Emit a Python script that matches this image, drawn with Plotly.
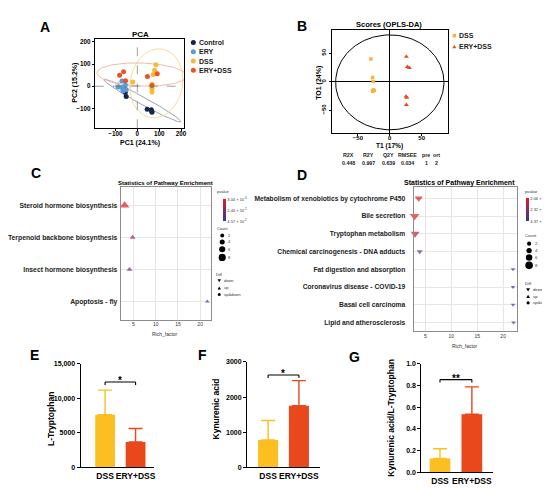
import numpy as np
import plotly.graph_objects as go

W, H = 550, 489
FONT = "Liberation Sans"


def px(x):
    return x / W


def py(y):
    return 1 - y / H


# ---------------- A: PCA data ----------------
pca_groups = ["Control", "ERY", "DSS", "ERY+DSS"]
pca_colors = ["#16244d", "#5b9bd5", "#f7b936", "#e8542a"]
ell_colors = ["#9aa3b5", "#b4cfea", "#f9dc98", "#f3bba3"]
pc1_control = [-60, -55, -51, 45, 64, 67, 66]
pc2_control = [-9, -28, -46, -104, -106, -118, -113]
pc1_ery = [-70, -88, -69, -55, -66, -51]
pc2_ery = [24, -3, -6, 4, -21, -16]
pc1_dss = [85, 79, 73, 67, 67, 67, -21]
pc2_dss = [97, 72, 53, 9, -9, -26, 19]
pc1_erydss = [-81, -63, -54, 46, 91, 67]
pc2_erydss = [50, 65, 25, 44, 56, 3]
# confidence ellipses (center, semi-axes, angle)
ell_cx = [23, -66, 87, 20]
ell_cy = [-65, 0, 13, 53]
ell_a = [200, 35, 157, 205]
ell_b = [17, 18, 120, 52]
ell_ang = [-28.5, -15, 79, -2]
pca_ticks = [-100, 0, 100, 200]

# ---------------- B: OPLS-DA data ----------------
opls_groups = ["DSS", "ERY+DSS"]
opls_colors = ["#f5b43a", "#e0501e"]
t1_dss = [-29.7, -27.1, -26.0, -26.0, -24.5, -27.0]
to1_dss = [39.8, 7.4, 0.6, -14.2, -15.3, -16.5]
t1_erydss = [26.0, 27.6, 30.7, 25.5, 26.6, 26.0]
to1_erydss = [43.8, 26.1, 24.4, -25.6, -27.8, -40.3]
hotelling = [85, 83]
opls_ticks = [-50, 0, 50]
opls_head = ["R2X", "R2Y", "Q2Y", "RMSEE", "pre", "ort"]
opls_vals = ["0.448", "0.997", "0.639", "0.034", "1", "2"]

# ---------------- C: pathway enrichment ----------------
c_pathways = ["Steroid hormone biosynthesis", "Terpenoid backbone biosynthesis",
              "Insect hormone biosynthesis", "Apoptosis - fly"]
c_rich = [3.0, 4.8, 4.1, 21.6]
c_p = [0.0030, 0.019, 0.031, 0.0457]
c_count = [8, 3, 3, 1]
c_diff = ["up", "up", "up", "up"]
c_pticks = [0.00304, 0.0244, 0.0457]
c_ptext = ["3.04 × 10<sup>-3</sup>", "2.44 × 10<sup>-2</sup>", "4.57 × 10<sup>-2</sup>"]

# ---------------- D: pathway enrichment ----------------
d_pathways = ["Metabolism of xenobiotics by cytochrome P450", "Bile secretion",
              "Tryptophan metabolism", "Chemical carcinogenesis - DNA adducts",
              "Fat digestion and absorption", "Coronavirus disease - COVID-19",
              "Basal cell carcinoma", "Lipid and atherosclerosis"]
d_rich = [3.7, 2.9, 3.0, 3.9, 21.9, 21.9, 21.9, 22.0]
d_p = [0.0028, 0.0021, 0.011, 0.033, 0.0437, 0.0437, 0.0437, 0.0437]
d_count = [6, 8, 7, 3, 1, 1, 1, 1]
d_diff = ["down"] * 8
d_pticks = [0.00206, 0.0232, 0.0437]
d_ptext = ["2.06 × 10<sup>-3</sup>", "2.32 × 10<sup>-2</sup>", "4.37 × 10<sup>-2</sup>"]

rich_ticks = [5, 10, 15, 20]
count_breaks = [2, 4, 6, 8]
diff_levels = ["down", "up", "up&down"]

# ---------------- E/F/G: bars ----------------
bar_groups = ["DSS", "ERY+DSS"]
bar_colors = ["#fbbf22", "#e8481c"]
trp_mean = [7630, 3670]
trp_err = [3570, 1960]
kyna_mean = [779, 1756]
kyna_err = [554, 713]
ratio_mean = [0.127, 0.536]
ratio_err = [0.091, 0.252]
sig_labels = ["*", "*", "**"]
sig_y = [12380, 2629, 0.855]
trp_ticks = [0, 5000, 10000, 15000]
trp_ticktext = ["0", "5000", "10,000", "15,000"]
kyna_ticks = [0, 1000, 2000, 3000]
ratio_ticks = [0.0, 0.2, 0.4, 0.6, 0.8, 1.0]

fig = go.Figure()
shapes = []
anns = []


def ann(x, y, text, size, xanchor="center", yanchor="middle", bold=True,
        color="black", angle=0, xref="paper", yref="paper", yshift=0):
    if xref == "paper":
        x = px(x)
    if yref == "paper":
        y = py(y)
    anns.append(dict(x=x, y=y, xref=xref, yref=yref, text=text, showarrow=False,
                     xanchor=xanchor, yanchor=yanchor, textangle=angle, yshift=yshift,
                     borderpad=0,
                     font=dict(family=FONT, size=size, color=color,
                               weight="bold" if bold else "normal")))


def circ(x, y, d, color):
    shapes.append(dict(type="circle", xref="paper", yref="paper", xsizemode="pixel",
                       ysizemode="pixel", xanchor=px(x), yanchor=py(y),
                       x0=-d / 2, x1=d / 2, y0=-d / 2, y1=d / 2,
                       fillcolor=color, line=dict(width=0)))


def tri(x, y, s, up, color):
    h = s * 0.87
    if up:
        path = f"M {-s/2},{-h/2} L {s/2},{-h/2} L 0,{h/2} Z"
    else:
        path = f"M {-s/2},{h/2} L {s/2},{h/2} L 0,{-h/2} Z"
    shapes.append(dict(type="path", xref="paper", yref="paper", xsizemode="pixel",
                       ysizemode="pixel", xanchor=px(x), yanchor=py(y), path=path,
                       fillcolor=color, line=dict(width=0)))


def sq(x, y, s, color):
    shapes.append(dict(type="rect", xref="paper", yref="paper", xsizemode="pixel",
                       ysizemode="pixel", xanchor=px(x), yanchor=py(y),
                       x0=-s / 2, x1=s / 2, y0=-s / 2, y1=s / 2,
                       fillcolor=color, line=dict(width=0)))


def ellipse(cx, cy, a, b, ang_deg, n=160):
    t = np.linspace(0, 2 * np.pi, n)
    th = np.radians(ang_deg)
    x = cx + a * np.cos(t) * np.cos(th) - b * np.sin(t) * np.sin(th)
    y = cy + a * np.cos(t) * np.sin(th) + b * np.sin(t) * np.cos(th)
    return x, y


def size_of(count):
    return 3.3 + 0.65 * np.asarray(count, dtype=float)


# ---------- A traces ----------
for i in range(4):
    ex, ey = ellipse(ell_cx[i], ell_cy[i], ell_a[i], ell_b[i], ell_ang[i])
    fig.add_trace(go.Scatter(x=ex, y=ey, mode="lines", line=dict(color=ell_colors[i], width=1),
                             xaxis="x", yaxis="y", hoverinfo="skip"))
pca_x = [pc1_control, pc1_ery, pc1_dss, pc1_erydss]
pca_y = [pc2_control, pc2_ery, pc2_dss, pc2_erydss]
for i in range(4):
    fig.add_trace(go.Scatter(x=pca_x[i], y=pca_y[i], mode="markers", name=pca_groups[i],
                             marker=dict(color=pca_colors[i], size=5),
                             xaxis="x", yaxis="y"))
shapes.append(dict(type="line", xref="x", yref="y domain", x0=0, x1=0, y0=0, y1=1,
                   line=dict(color="#777", width=0.7, dash="dash")))
shapes.append(dict(type="line", xref="x domain", yref="y", x0=0, x1=1, y0=0, y1=0,
                   line=dict(color="#777", width=0.7, dash="dash")))

# ---------- B traces ----------
ex, ey = ellipse(0, -1, hotelling[0], hotelling[1], 0)
fig.add_trace(go.Scatter(x=ex, y=ey, mode="lines", line=dict(color="black", width=1),
                         xaxis="x2", yaxis="y2", hoverinfo="skip"))
fig.add_trace(go.Scatter(x=t1_dss, y=to1_dss, mode="markers",
                         marker=dict(color=opls_colors[0], size=3.5, symbol="square"),
                         xaxis="x2", yaxis="y2"))
fig.add_trace(go.Scatter(x=t1_erydss, y=to1_erydss, mode="markers",
                         marker=dict(color=opls_colors[1], size=4.5, symbol="triangle-up"),
                         xaxis="x2", yaxis="y2"))

sym_map = {"up": "triangle-up", "down": "triangle-down", "up&down": "circle"}
pscale = [[0, "#2d3a97"], [1, "#e8191f"]]


def enrich_trace(rich, pathways, pvals, counts, diffs, pticks, ptext, xa, ya, cbx, cby, cblen, fs):
    ypos = [len(pathways) - i for i in range(len(pathways))]
    return go.Scatter(
        x=rich, y=ypos, mode="markers", xaxis=xa, yaxis=ya, cliponaxis=False,
        marker=dict(size=size_of(counts), symbol=[sym_map[d] for d in diffs],
                    color=[-p for p in pvals], colorscale=pscale,
                    cmin=-max(pticks), cmax=-min(pticks), line=dict(width=0),
                    colorbar=dict(x=px(cbx), xanchor="left", y=py(cby), yanchor="top",
                                  len=cblen, lenmode="pixels", thickness=2.5,
                                  thicknessmode="pixels", xpad=0, ypad=0, outlinewidth=0,
                                  ticks="", tickvals=[-v for v in pticks], ticktext=ptext,
                                  tickfont=dict(family=FONT, size=fs, color="#333"))),
    )


fig.add_trace(enrich_trace(c_rich, c_pathways, c_p, c_count, c_diff, c_pticks, c_ptext,
                           "x3", "y3", 216, 190, 22, 4))
fig.add_trace(enrich_trace(d_rich, d_pathways, d_p, d_count, d_diff, d_pticks, d_ptext,
                           "x4", "y4", 519.5, 189, 23, 4))

# ---------- E/F/G bars ----------
bar_sets = [(trp_mean, trp_err, "x5", "y5"), (kyna_mean, kyna_err, "x6", "y6"),
            (ratio_mean, ratio_err, "x7", "y7")]
for k, (means, errs, xa, ya) in enumerate(bar_sets):
    for j in range(2):
        fig.add_trace(go.Bar(x=[j], y=[means[j]], width=0.65,
                             marker=dict(color=bar_colors[j], line=dict(width=0)),
                             error_y=dict(type="data", symmetric=False, array=[errs[j]],
                                          arrayminus=[0], color=bar_colors[j], thickness=1.4, width=7),
                             xaxis=xa, yaxis=ya))
    yb = sig_y[k]
    shapes.append(dict(type="line", xref=xa, yref=ya, x0=0, x1=1, y0=yb, y1=yb,
                       line=dict(color="black", width=1.1)))
    for xv in (0, 1):
        shapes.append(dict(type="line", xref=xa, yref=ya, ysizemode="pixel", yanchor=yb,
                           x0=xv, x1=xv, y0=-3, y1=0, line=dict(color="black", width=1.1)))
    ann(0.5, yb, sig_labels[k], 10, xref=xa, yref=ya, yshift=1)

# ---------- text ----------
for letter, x, y in [("A", 37, 15), ("B", 295, 14), ("C", 28, 163), ("D", 295, 165),
                     ("E", 27, 348), ("F", 195, 348), ("G", 348, 350)]:
    ann(x, y, letter, 14)

ann(133, 23, "PCA", 8)
ann(132, 133, "PC1 (24.1%)", 7)
ann(67, 72, "PC2 (15.2%)", 7, angle=-90)
for i, g in enumerate(pca_groups):
    yy = 31 + i * 9.4
    circ(186, yy, 5, pca_colors[i])
    ann(190.5, yy, g, 7, xanchor="left", color="#222")

ann(382, 13, "Scores (OPLS-DA)", 7.5)
ann(383, 135.5, "T1 (17%)", 6.6)
ann(312, 72, "TO1 (24%)", 7, angle=-90)
sq(448, 24, 3.5, opls_colors[0])
ann(452, 24, "DSS", 7, xanchor="left", color="#222")
tri(448, 35, 4, True, opls_colors[1])
ann(452, 35, "ERY+DSS", 7, xanchor="left", color="#222")
tab_x = [342, 362, 382, 401, 420, 430]
for i in range(6):
    ann(tab_x[i], 145, opls_head[i], 5.3, color="#222")
    ann(tab_x[i], 153, opls_vals[i], 5.3, color="#222")

# C texts
ann(158, 173, "Statistics of Pathway Enrichment", 6)
ann(158, 327, "Rich_factor", 5, bold=False, color="#333")
ann(209, 182, "pvalue", 4, xanchor="left", bold=False, color="#333")
ann(209, 220, "Count", 4, xanchor="left", bold=False, color="#333")
for i, c in enumerate(count_breaks):
    yy = [226.7, 233.3, 240.7, 249][i]
    circ(215, yy, size_of(c) * 0.85, "black")
    ann(220, yy, str(c), 4, xanchor="left", bold=False, color="#333")
ann(208, 266, "Diff", 4, xanchor="left", bold=False, color="#333")
for i, lv in enumerate(diff_levels):
    yy = [272.7, 280, 286.7][i]
    if lv == "down":
        tri(212, yy, 3.5, False, "black")
    elif lv == "up":
        tri(212, yy, 3.5, True, "black")
    else:
        circ(212, yy, 3, "black")
    ann(216, yy, lv, 4, xanchor="left", bold=False, color="#333")

# D texts
ann(453, 173, "Statistics of Pathway Enrichment", 7)
ann(459, 339, "Rich_factor", 5, bold=False, color="#333")
ann(518, 182, "pvalue", 4.2, xanchor="left", bold=False, color="#333")
ann(518, 227, "Count", 4.2, xanchor="left", bold=False, color="#333")
for i, c in enumerate(count_breaks):
    yy = [235, 242, 249, 257][i]
    circ(523, yy, size_of(c) * 0.9, "black")
    ann(528, yy, str(c), 4.2, xanchor="left", bold=False, color="#333")
ann(518, 275, "Diff", 4.2, xanchor="left", bold=False, color="#333")
for i, lv in enumerate(diff_levels):
    yy = [282, 288.5, 295][i]
    if lv == "down":
        tri(522, yy, 3.8, False, "black")
    elif lv == "up":
        tri(522, yy, 3.8, True, "black")
    else:
        circ(522, yy, 3.2, "black")
    ann(526, yy, lv, 4.2, xanchor="left", bold=False, color="#333")

ann(43, 413, "L-Tryptophan", 8.5, angle=-90)
ann(209, 403, "Kynurenic acid", 8.5, angle=-90)
ann(385, 412, "Kynurenic acid/L-Tryptophan", 8.5, angle=-90)


# ---------- axes ----------
def dom(a, b, vertical=False):
    if vertical:
        return [py(b), py(a)]
    return [px(a), px(b)]


def tf(s, c="black", bold=True):
    return dict(family=FONT, size=s, color=c, weight="bold" if bold else "normal")


box_common = dict(showline=True, mirror=True, showgrid=False, zeroline=False, ticks="outside")

layout = dict(
    width=W, height=H, margin=dict(l=0, r=0, t=0, b=0), showlegend=False,
    paper_bgcolor="white", plot_bgcolor="white", barmode="overlay",
    xaxis=dict(domain=dom(87, 177), anchor="y", range=[-195, 215], tickvals=pca_ticks,
               linecolor="black", linewidth=0.8, ticklen=2, tickcolor="black",
               ticklabelstandoff=-3, tickfont=tf(6.3), **box_common),
    yaxis=dict(domain=dom(27, 118, True), anchor="x", range=[-190, 215], tickvals=pca_ticks,
               linecolor="black", linewidth=0.8, ticklen=2, tickcolor="black",
               tickfont=tf(6.3), **box_common),
    xaxis2=dict(domain=dom(325, 442), anchor="y2", range=[-91, 92], tickvals=opls_ticks,
                linecolor="black", linewidth=1, ticklen=2, tickcolor="black",
                ticklabelstandoff=-3, tickfont=tf(6), showline=True, mirror=True, showgrid=False,
                ticks="outside", zeroline=True, zerolinecolor="black", zerolinewidth=1),
    yaxis2=dict(domain=dom(18, 123, True), anchor="x2", range=[-90, 91], tickvals=opls_ticks,
                linecolor="black", linewidth=1, ticklen=2, tickcolor="black", tickangle=-90,
                tickfont=tf(6), showline=True, mirror=True, showgrid=False, ticks="outside",
                zeroline=True, zerolinecolor="black", zerolinewidth=1),
    xaxis3=dict(domain=dom(113, 204), anchor="y3", range=[2.1, 22.5], tickvals=rich_ticks,
                showline=True, mirror=True, linecolor="#8c8c8c", linewidth=0.8,
                showgrid=True, gridcolor="#e6e6e6", gridwidth=0.6, zeroline=False,
                ticks="", tickfont=tf(5, "#333", False)),
    yaxis3=dict(domain=dom(178, 312, True), anchor="x3", range=[0.44, 4.56],
                tickvals=[len(c_pathways) - i for i in range(len(c_pathways))], ticktext=c_pathways,
                showline=True, mirror=True, linecolor="#8c8c8c", linewidth=0.8,
                showgrid=True, gridcolor="#e6e6e6", gridwidth=0.6, zeroline=False,
                ticks="", ticklabelstandoff=1, tickfont=tf(6.8, "#222")),
    xaxis4=dict(domain=dom(407, 511), anchor="y4", range=[2.7, 22.7], tickvals=rich_ticks,
                showline=True, mirror=True, linecolor="#8c8c8c", linewidth=0.8,
                showgrid=True, gridcolor="#e6e6e6", gridwidth=0.6, zeroline=False,
                ticks="", tickfont=tf(5, "#333", False)),
    yaxis4=dict(domain=dom(178, 324, True), anchor="x4", range=[0.5, 8.61],
                tickvals=[len(d_pathways) - i for i in range(len(d_pathways))], ticktext=d_pathways,
                showline=True, mirror=True, linecolor="#8c8c8c", linewidth=0.8,
                showgrid=True, gridcolor="#e6e6e6", gridwidth=0.6, zeroline=False,
                ticks="", ticklabelstandoff=6, tickfont=tf(6.7, "#222")),
)

bar_axes = [("5", [73, 147], [357, 462], [-0.8, 1.62], [0, 15000], trp_ticks, trp_ticktext),
            ("6", [240, 313], [355, 462], [-0.68, 1.68], [0, 3000], kyna_ticks, [str(v) for v in kyna_ticks]),
            ("7", [415, 487], [357, 467], [-0.58, 1.67], [0, 1.0], ratio_ticks, [f"{v:.1f}" for v in ratio_ticks])]
for n, xd, yd, xr, yr, tv, tt in bar_axes:
    layout["xaxis" + n] = dict(domain=dom(*xd), anchor="y" + n, range=xr, tickvals=[0, 1],
                               ticktext=bar_groups, showline=True, linecolor="black", linewidth=1.3,
                               ticks="", tickangle=0, showgrid=False, zeroline=False, tickfont=tf(8.5))
    layout["yaxis" + n] = dict(domain=dom(*yd, True), anchor="x" + n, range=yr, tickvals=tv,
                               ticktext=tt, showline=True, linecolor="black", linewidth=1.3,
                               ticks="outside", ticklen=3, tickwidth=1.2, tickcolor="black",
                               showgrid=False, zeroline=False, tickfont=tf(7))

layout["shapes"] = shapes
layout["annotations"] = anns
fig.update_layout(**layout)
fig.write_html("out.html")
